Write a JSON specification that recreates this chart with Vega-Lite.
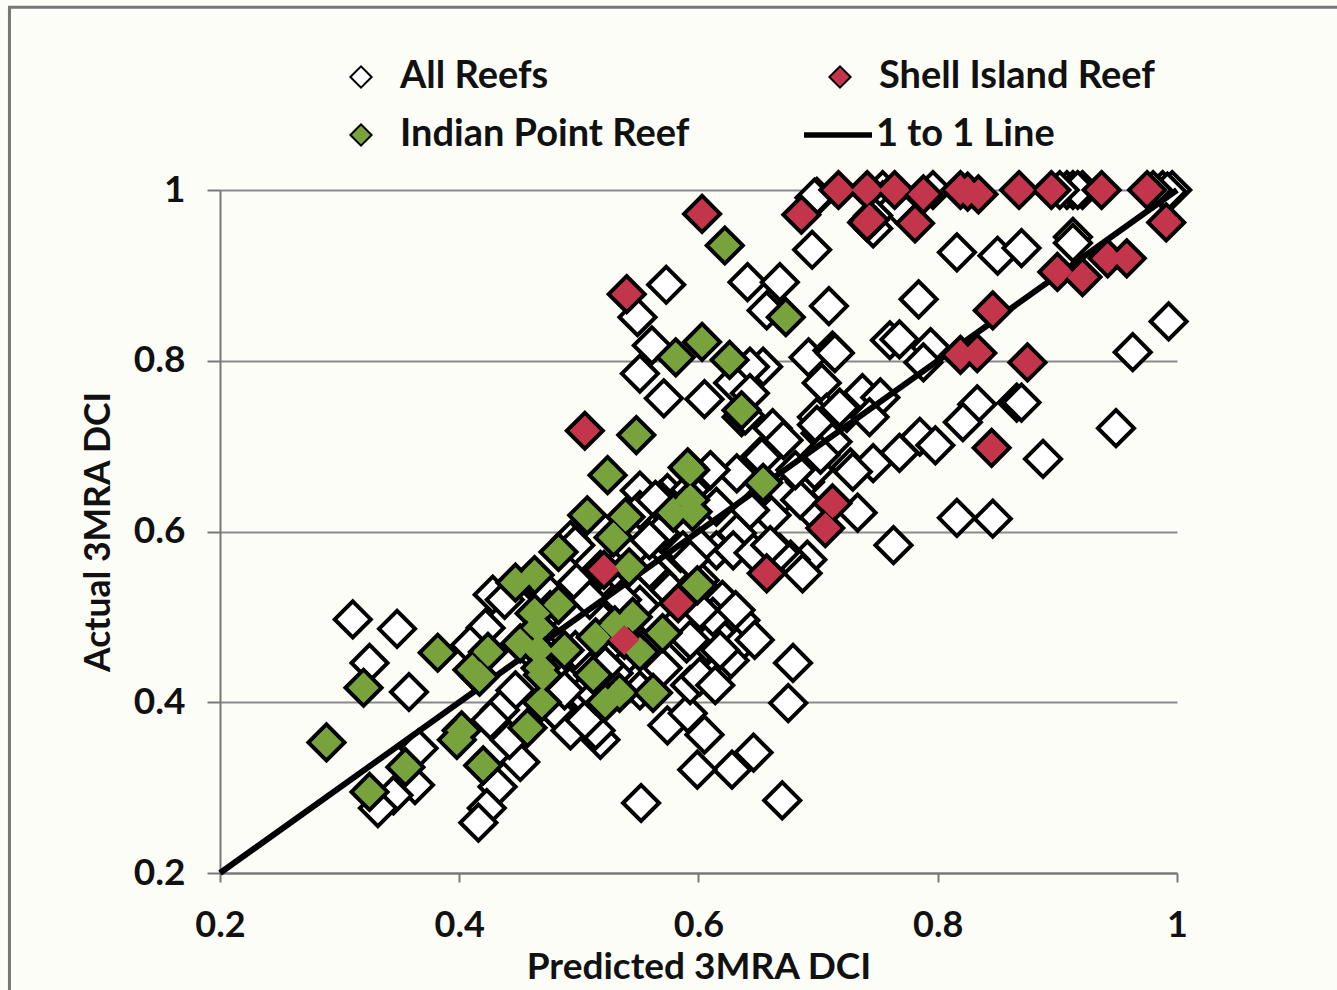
{
"$schema":"https://vega.github.io/schema/vega-lite/v6.json",
"width":957,"height":683,
"autosize":"none",
"padding":{"left":220,"top":190,"right":160,"bottom":117},
"background":"#fdfdf8",
"config":{"view":{"stroke":null},"font":"Lato"},
"datasets":{
"line":[{"s":"1 to 1 Line","x":0.2,"y":0.2},{"s":"1 to 1 Line","x":1,"y":1}],
"pts":[
{"s":"All Reefs","x":0.311,"y":0.497},{"s":"All Reefs","x":0.348,"y":0.486},{"s":"All Reefs","x":0.325,"y":0.446},{"s":"All Reefs","x":0.358,"y":0.412},{"s":"All Reefs","x":0.428,"y":0.526},{"s":"All Reefs","x":0.422,"y":0.487},{"s":"All Reefs","x":0.409,"y":0.467},{"s":"All Reefs","x":0.366,"y":0.346},{"s":"All Reefs","x":0.363,"y":0.303},{"s":"All Reefs","x":0.345,"y":0.291},{"s":"All Reefs","x":0.332,"y":0.276},{"s":"All Reefs","x":0.451,"y":0.33},{"s":"All Reefs","x":0.432,"y":0.301},{"s":"All Reefs","x":0.423,"y":0.276},{"s":"All Reefs","x":0.416,"y":0.259},{"s":"All Reefs","x":0.49,"y":0.382},{"s":"All Reefs","x":0.679,"y":0.446},{"s":"All Reefs","x":0.675,"y":0.399},{"s":"All Reefs","x":0.67,"y":0.285},{"s":"All Reefs","x":0.646,"y":0.341},{"s":"All Reefs","x":0.628,"y":0.321},{"s":"All Reefs","x":0.599,"y":0.321},{"s":"All Reefs","x":0.605,"y":0.362},{"s":"All Reefs","x":0.574,"y":0.373},{"s":"All Reefs","x":0.591,"y":0.387},{"s":"All Reefs","x":0.593,"y":0.42},{"s":"All Reefs","x":0.552,"y":0.282},{"s":"All Reefs","x":0.518,"y":0.356},{"s":"All Reefs","x":0.514,"y":0.367},{"s":"All Reefs","x":0.488,"y":0.379},{"s":"All Reefs","x":0.57,"y":0.44},{"s":"All Reefs","x":0.635,"y":0.496},{"s":"All Reefs","x":0.632,"y":0.465},{"s":"All Reefs","x":0.626,"y":0.449},{"s":"All Reefs","x":0.612,"y":0.43},{"s":"All Reefs","x":0.601,"y":0.43},{"s":"All Reefs","x":0.607,"y":0.469},{"s":"All Reefs","x":0.62,"y":0.52},{"s":"All Reefs","x":0.612,"y":0.5},{"s":"All Reefs","x":0.59,"y":0.469},{"s":"All Reefs","x":0.551,"y":0.648},{"s":"All Reefs","x":0.574,"y":0.645},{"s":"All Reefs","x":0.585,"y":0.575},{"s":"All Reefs","x":0.565,"y":0.547},{"s":"All Reefs","x":0.615,"y":0.629},{"s":"All Reefs","x":0.632,"y":0.668},{"s":"All Reefs","x":0.651,"y":0.687},{"s":"All Reefs","x":0.668,"y":0.709},{"s":"All Reefs","x":0.632,"y":0.598},{"s":"All Reefs","x":0.615,"y":0.578},{"s":"All Reefs","x":0.629,"y":0.578},{"s":"All Reefs","x":0.671,"y":0.643},{"s":"All Reefs","x":0.661,"y":0.619},{"s":"All Reefs","x":0.687,"y":0.664},{"s":"All Reefs","x":0.689,"y":0.666},{"s":"All Reefs","x":0.689,"y":0.658},{"s":"All Reefs","x":0.691,"y":0.567},{"s":"All Reefs","x":0.677,"y":0.567},{"s":"All Reefs","x":0.668,"y":0.575},{"s":"All Reefs","x":0.687,"y":0.551},{"s":"All Reefs","x":0.646,"y":0.575},{"s":"All Reefs","x":0.498,"y":0.54},{"s":"All Reefs","x":0.493,"y":0.59},{"s":"All Reefs","x":0.568,"y":0.598},{"s":"All Reefs","x":0.587,"y":0.578},{"s":"All Reefs","x":0.601,"y":0.582},{"s":"All Reefs","x":0.532,"y":0.52},{"s":"All Reefs","x":0.509,"y":0.449},{"s":"All Reefs","x":0.534,"y":0.446},{"s":"All Reefs","x":0.529,"y":0.434},{"s":"All Reefs","x":0.501,"y":0.411},{"s":"All Reefs","x":0.49,"y":0.434},{"s":"All Reefs","x":0.573,"y":0.889},{"s":"All Reefs","x":0.549,"y":0.851},{"s":"All Reefs","x":0.561,"y":0.818},{"s":"All Reefs","x":0.551,"y":0.785},{"s":"All Reefs","x":0.571,"y":0.756},{"s":"All Reefs","x":0.605,"y":0.755},{"s":"All Reefs","x":0.641,"y":0.892},{"s":"All Reefs","x":0.668,"y":0.892},{"s":"All Reefs","x":0.657,"y":0.859},{"s":"All Reefs","x":0.695,"y":0.93},{"s":"All Reefs","x":0.709,"y":0.864},{"s":"All Reefs","x":0.692,"y":0.804},{"s":"All Reefs","x":0.712,"y":0.812},{"s":"All Reefs","x":0.714,"y":0.809},{"s":"All Reefs","x":0.703,"y":0.774},{"s":"All Reefs","x":0.699,"y":0.992},{"s":"All Reefs","x":0.654,"y":0.793},{"s":"All Reefs","x":0.643,"y":0.793},{"s":"All Reefs","x":0.629,"y":0.774},{"s":"All Reefs","x":0.643,"y":0.762},{"s":"All Reefs","x":0.636,"y":0.734},{"s":"All Reefs","x":0.639,"y":0.736},{"s":"All Reefs","x":0.662,"y":0.721},{"s":"All Reefs","x":0.671,"y":0.707},{"s":"All Reefs","x":0.653,"y":0.687},{"s":"All Reefs","x":0.737,"y":0.762},{"s":"All Reefs","x":0.752,"y":0.757},{"s":"All Reefs","x":0.724,"y":0.739},{"s":"All Reefs","x":0.743,"y":0.734},{"s":"All Reefs","x":0.707,"y":0.739},{"s":"All Reefs","x":0.699,"y":0.734},{"s":"All Reefs","x":0.71,"y":0.707},{"s":"All Reefs","x":0.702,"y":0.715},{"s":"All Reefs","x":0.727,"y":0.675},{"s":"All Reefs","x":0.746,"y":0.68},{"s":"All Reefs","x":0.76,"y":0.824},{"s":"All Reefs","x":0.816,"y":0.927},{"s":"All Reefs","x":0.85,"y":0.923},{"s":"All Reefs","x":0.87,"y":0.932},{"s":"All Reefs","x":0.913,"y":0.945},{"s":"All Reefs","x":0.913,"y":0.938},{"s":"All Reefs","x":0.784,"y":0.872},{"s":"All Reefs","x":0.993,"y":0.846},{"s":"All Reefs","x":0.768,"y":0.825},{"s":"All Reefs","x":0.794,"y":0.816},{"s":"All Reefs","x":0.788,"y":0.798},{"s":"All Reefs","x":0.963,"y":0.81},{"s":"All Reefs","x":0.833,"y":0.749},{"s":"All Reefs","x":0.866,"y":0.751},{"s":"All Reefs","x":0.87,"y":0.751},{"s":"All Reefs","x":0.821,"y":0.728},{"s":"All Reefs","x":0.949,"y":0.721},{"s":"All Reefs","x":0.888,"y":0.685},{"s":"All Reefs","x":0.785,"y":0.711},{"s":"All Reefs","x":0.798,"y":0.701},{"s":"All Reefs","x":0.768,"y":0.692},{"s":"All Reefs","x":0.729,"y":0.67},{"s":"All Reefs","x":0.816,"y":0.616},{"s":"All Reefs","x":0.846,"y":0.615},{"s":"All Reefs","x":0.733,"y":0.622},{"s":"All Reefs","x":0.763,"y":0.584},{"s":"All Reefs","x":0.988,"y":1.0},{"s":"All Reefs","x":0.996,"y":1.0},{"s":"All Reefs","x":0.992,"y":0.998},{"s":"All Reefs","x":0.908,"y":1.0},{"s":"All Reefs","x":0.913,"y":1.0},{"s":"All Reefs","x":0.921,"y":1.0},{"s":"All Reefs","x":0.917,"y":1.0},{"s":"All Reefs","x":0.902,"y":1.0},{"s":"All Reefs","x":0.796,"y":1.0},{"s":"All Reefs","x":0.754,"y":1.0},{"s":"All Reefs","x":0.754,"y":0.988},{"s":"All Reefs","x":0.766,"y":0.982},{"s":"All Reefs","x":0.746,"y":0.955},{"s":"All Reefs","x":0.746,"y":0.97},{"s":"All Reefs","x":0.697,"y":0.991},{"s":"All Reefs","x":0.718,"y":0.745},{"s":"All Reefs","x":0.699,"y":0.725},{"s":"All Reefs","x":0.712,"y":0.705},{"s":"All Reefs","x":0.696,"y":0.623},{"s":"All Reefs","x":0.98,"y":1.0},{"s":"All Reefs","x":0.438,"y":0.52},{"s":"All Reefs","x":0.459,"y":0.543},{"s":"All Reefs","x":0.472,"y":0.531},{"s":"All Reefs","x":0.476,"y":0.508},{"s":"All Reefs","x":0.509,"y":0.52},{"s":"All Reefs","x":0.497,"y":0.584},{"s":"All Reefs","x":0.518,"y":0.555},{"s":"All Reefs","x":0.447,"y":0.414},{"s":"All Reefs","x":0.434,"y":0.391},{"s":"All Reefs","x":0.426,"y":0.379},{"s":"All Reefs","x":0.442,"y":0.356},{"s":"All Reefs","x":0.484,"y":0.385},{"s":"All Reefs","x":0.493,"y":0.367},{"s":"All Reefs","x":0.505,"y":0.379},{"s":"All Reefs","x":0.476,"y":0.438},{"s":"All Reefs","x":0.488,"y":0.414},{"s":"All Reefs","x":0.501,"y":0.449},{"s":"All Reefs","x":0.518,"y":0.403},{"s":"All Reefs","x":0.551,"y":0.414},{"s":"All Reefs","x":0.539,"y":0.485},{"s":"All Reefs","x":0.522,"y":0.461},{"s":"All Reefs","x":0.551,"y":0.514},{"s":"All Reefs","x":0.559,"y":0.555},{"s":"All Reefs","x":0.576,"y":0.531},{"s":"All Reefs","x":0.568,"y":0.637},{"s":"All Reefs","x":0.585,"y":0.496},{"s":"All Reefs","x":0.601,"y":0.508},{"s":"All Reefs","x":0.593,"y":0.473},{"s":"All Reefs","x":0.618,"y":0.461},{"s":"All Reefs","x":0.614,"y":0.42},{"s":"All Reefs","x":0.536,"y":0.52},{"s":"All Reefs","x":0.53,"y":0.555},{"s":"All Reefs","x":0.601,"y":0.543},{"s":"All Reefs","x":0.593,"y":0.567},{"s":"All Reefs","x":0.559,"y":0.59},{"s":"All Reefs","x":0.551,"y":0.625},{"s":"All Reefs","x":0.564,"y":0.637},{"s":"All Reefs","x":0.61,"y":0.672},{"s":"All Reefs","x":0.593,"y":0.649},{"s":"All Reefs","x":0.643,"y":0.625},{"s":"All Reefs","x":0.66,"y":0.584},{"s":"All Reefs","x":0.685,"y":0.637},{"s":"All Reefs","x":0.697,"y":0.672},{"s":"All Reefs","x":0.702,"y":0.69},{"s":"All Reefs","x":0.681,"y":0.672},{"s":"All Reefs","x":0.647,"y":0.473},{"s":"All Reefs","x":0.631,"y":0.508},{"s":"All Reefs","x":0.514,"y":0.408},{"s":"All Reefs","x":0.522,"y":0.443},{"s":"All Reefs","x":0.497,"y":0.461},{"s":"All Reefs","x":0.472,"y":0.461},{"s":"All Reefs","x":0.459,"y":0.461},
{"s":"Indian Point Reef","x":0.289,"y":0.353},{"s":"Indian Point Reef","x":0.32,"y":0.417},{"s":"Indian Point Reef","x":0.382,"y":0.458},{"s":"Indian Point Reef","x":0.424,"y":0.459},{"s":"Indian Point Reef","x":0.411,"y":0.438},{"s":"Indian Point Reef","x":0.417,"y":0.43},{"s":"Indian Point Reef","x":0.325,"y":0.295},{"s":"Indian Point Reef","x":0.355,"y":0.324},{"s":"Indian Point Reef","x":0.402,"y":0.367},{"s":"Indian Point Reef","x":0.398,"y":0.356},{"s":"Indian Point Reef","x":0.42,"y":0.326},{"s":"Indian Point Reef","x":0.457,"y":0.37},{"s":"Indian Point Reef","x":0.469,"y":0.4},{"s":"Indian Point Reef","x":0.483,"y":0.576},{"s":"Indian Point Reef","x":0.463,"y":0.549},{"s":"Indian Point Reef","x":0.447,"y":0.54},{"s":"Indian Point Reef","x":0.483,"y":0.514},{"s":"Indian Point Reef","x":0.463,"y":0.504},{"s":"Indian Point Reef","x":0.451,"y":0.469},{"s":"Indian Point Reef","x":0.466,"y":0.487},{"s":"Indian Point Reef","x":0.466,"y":0.461},{"s":"Indian Point Reef","x":0.468,"y":0.44},{"s":"Indian Point Reef","x":0.47,"y":0.432},{"s":"Indian Point Reef","x":0.488,"y":0.461},{"s":"Indian Point Reef","x":0.548,"y":0.713},{"s":"Indian Point Reef","x":0.524,"y":0.666},{"s":"Indian Point Reef","x":0.593,"y":0.672},{"s":"Indian Point Reef","x":0.593,"y":0.637},{"s":"Indian Point Reef","x":0.579,"y":0.622},{"s":"Indian Point Reef","x":0.595,"y":0.623},{"s":"Indian Point Reef","x":0.654,"y":0.657},{"s":"Indian Point Reef","x":0.507,"y":0.619},{"s":"Indian Point Reef","x":0.539,"y":0.617},{"s":"Indian Point Reef","x":0.529,"y":0.593},{"s":"Indian Point Reef","x":0.542,"y":0.558},{"s":"Indian Point Reef","x":0.599,"y":0.537},{"s":"Indian Point Reef","x":0.545,"y":0.5},{"s":"Indian Point Reef","x":0.53,"y":0.49},{"s":"Indian Point Reef","x":0.514,"y":0.476},{"s":"Indian Point Reef","x":0.57,"y":0.481},{"s":"Indian Point Reef","x":0.551,"y":0.459},{"s":"Indian Point Reef","x":0.512,"y":0.432},{"s":"Indian Point Reef","x":0.534,"y":0.411},{"s":"Indian Point Reef","x":0.522,"y":0.4},{"s":"Indian Point Reef","x":0.562,"y":0.411},{"s":"Indian Point Reef","x":0.622,"y":0.935},{"s":"Indian Point Reef","x":0.673,"y":0.851},{"s":"Indian Point Reef","x":0.603,"y":0.822},{"s":"Indian Point Reef","x":0.581,"y":0.804},{"s":"Indian Point Reef","x":0.626,"y":0.801},{"s":"Indian Point Reef","x":0.636,"y":0.742},{"s":"Indian Point Reef","x":0.591,"y":0.675},
{"s":"Shell Island Reef","x":0.603,"y":0.972},{"s":"Shell Island Reef","x":0.54,"y":0.878},{"s":"Shell Island Reef","x":0.686,"y":0.971},{"s":"Shell Island Reef","x":0.717,"y":1.0},{"s":"Shell Island Reef","x":0.741,"y":1.0},{"s":"Shell Island Reef","x":0.764,"y":1.0},{"s":"Shell Island Reef","x":0.788,"y":0.995},{"s":"Shell Island Reef","x":0.819,"y":1.0},{"s":"Shell Island Reef","x":0.825,"y":0.998},{"s":"Shell Island Reef","x":0.834,"y":0.995},{"s":"Shell Island Reef","x":0.868,"y":1.0},{"s":"Shell Island Reef","x":0.895,"y":1.0},{"s":"Shell Island Reef","x":0.937,"y":1.0},{"s":"Shell Island Reef","x":0.975,"y":1.0},{"s":"Shell Island Reef","x":0.741,"y":0.962},{"s":"Shell Island Reef","x":0.743,"y":0.965},{"s":"Shell Island Reef","x":0.781,"y":0.961},{"s":"Shell Island Reef","x":0.991,"y":0.962},{"s":"Shell Island Reef","x":0.942,"y":0.92},{"s":"Shell Island Reef","x":0.958,"y":0.92},{"s":"Shell Island Reef","x":0.9,"y":0.904},{"s":"Shell Island Reef","x":0.921,"y":0.898},{"s":"Shell Island Reef","x":0.846,"y":0.859},{"s":"Shell Island Reef","x":0.819,"y":0.807},{"s":"Shell Island Reef","x":0.833,"y":0.809},{"s":"Shell Island Reef","x":0.875,"y":0.798},{"s":"Shell Island Reef","x":0.845,"y":0.698},{"s":"Shell Island Reef","x":0.712,"y":0.633},{"s":"Shell Island Reef","x":0.706,"y":0.604},{"s":"Shell Island Reef","x":0.505,"y":0.718},{"s":"Shell Island Reef","x":0.521,"y":0.555},{"s":"Shell Island Reef","x":0.583,"y":0.516},{"s":"Shell Island Reef","x":0.657,"y":0.551},{"s":"Shell Island Reef","x":0.538,"y":0.473}
]},
"layer":[
{"data":{"values":[{"frame":1}]},
 "mark":{"type":"rect","fill":"transparent","stroke":"#777777","strokeWidth":3,"clip":false},
 "encoding":{
  "x":{"datum":0.024,"type":"quantitative","scale":{"domain":[0.2,1]},
   "axis":{"values":[0.2,0.4,0.6,0.8,1],"format":"~g","grid":false,"title":"Predicted 3MRA DCI","titleFontSize":37,"titleFontWeight":"bold","titleColor":"#111","titlePadding":6,"labelFontSize":36,"labelFontWeight":"bold","labelColor":"#111","labelPadding":26,"tickSize":9,"tickColor":"#777","tickWidth":2,"domainColor":"#777","domainWidth":2,"labelFlush":false,"labelOverlap":false}},
  "x2":{"datum":1.3},
  "y":{"datum":1.214,"type":"quantitative","scale":{"domain":[0.2,1]},
   "axis":{"values":[0.2,0.4,0.6,0.8,1],"format":"~g","grid":true,"gridColor":"#8a8a8a","gridWidth":2,"title":"Actual 3MRA DCI","titleFontSize":35.5,"titleFontWeight":"bold","titleColor":"#111","titlePadding":17,"labelFontSize":37,"labelFontWeight":"bold","labelColor":"#111","labelPadding":22,"tickSize":13,"tickColor":"#777","tickWidth":2,"domainColor":"#777","domainWidth":2,"labelOverlap":false}},
  "y2":{"datum":0.05}}},
{"data":{"name":"pts"},"transform":[{"filter":"datum.s==='All Reefs'"}],
 "mark":{"type":"point","shape":"diamond","fill":"#ffffff","fillOpacity":1,"stroke":"#000000","strokeWidth":4,"opacity":1,"size":1300,"clip":false},
 "encoding":{"x":{"field":"x","type":"quantitative","scale":{"domain":[0.2,1]}},"y":{"field":"y","type":"quantitative","scale":{"domain":[0.2,1]}}}},
{"data":{"name":"line"},"mark":{"type":"line","strokeWidth":6},
 "encoding":{"x":{"field":"x","type":"quantitative","scale":{"domain":[0.2,1]}},"y":{"field":"y","type":"quantitative","scale":{"domain":[0.2,1]}},
  "stroke":{"field":"s","type":"nominal","scale":{"domain":["1 to 1 Line"],"range":["#000000"]},
   "legend":{"title":null,"orient":"none","legendX":581,"legendY":-92,"symbolType":"stroke","symbolSize":4624,"symbolStrokeWidth":5.5,"labelFontSize":38,"labelFontWeight":"bold","labelColor":"#111","labelLimit":500,"labelOffset":1}}}},
{"data":{"name":"pts"},"transform":[{"filter":"datum.s!=='All Reefs'"}],
 "mark":{"type":"point","shape":"diamond","filled":true,"stroke":"#000000","strokeWidth":4,"opacity":1,"size":1300,"clip":false},
 "encoding":{
  "x":{"field":"x","type":"quantitative","scale":{"domain":[0.2,1]}},
  "y":{"field":"y","type":"quantitative","scale":{"domain":[0.2,1]}},
  "order":{"field":"s","sort":"ascending"},
  "fill":{"field":"s","type":"nominal","scale":{"domain":["All Reefs","Indian Point Reef","Shell Island Reef"],"range":["#ffffff","#77a23c","#c2354a"]},
   "legend":{"title":null,"orient":"none","legendX":122,"legendY":-132,"columns":2,"columnPadding":131,"rowPadding":20,"symbolType":"diamond","symbolSize":450,"labelFontSize":38,"labelFontWeight":"bold","labelColor":"#111","labelLimit":500,"labelOffset":20,
    "encoding":{"symbols":{"opacity":{"value":1},"strokeWidth":{"value":2},"stroke":[{"test":"datum.value==='All Reefs'","value":"#333333"},{"test":"datum.value==='Shell Island Reef'","value":"#c2354a"},{"value":"#77a23c"}]}}}}}},
{"data":{"name":"pts"},"transform":[{"filter":"datum.s!=='All Reefs'"}],
 "mark":{"type":"point","shape":"diamond","filled":true,"strokeWidth":0,"opacity":1,"size":880,"clip":false},
 "encoding":{
  "x":{"field":"x","type":"quantitative","scale":{"domain":[0.2,1]}},
  "y":{"field":"y","type":"quantitative","scale":{"domain":[0.2,1]}},
  "order":{"field":"s","sort":"ascending"},
  "fill":{"field":"s","type":"nominal","scale":{"domain":["All Reefs","Indian Point Reef","Shell Island Reef"],"range":["#ffffff","#77a23c","#c2354a"]},"legend":null}}}
]
}
